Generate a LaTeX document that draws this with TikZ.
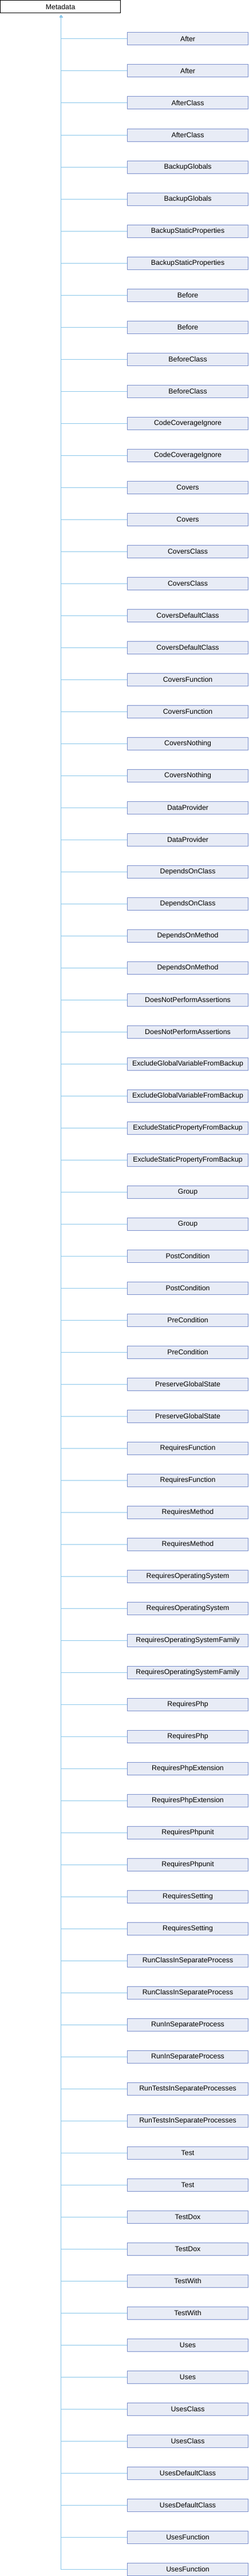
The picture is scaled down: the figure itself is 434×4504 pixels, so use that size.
\documentclass[tikz,border=0pt]{standalone}
\usepackage{fontspec}
\setmainfont{Liberation Sans}
\usetikzlibrary{arrows.meta}
\definecolor{edgeblue}{HTML}{8DC8EA}
\definecolor{boxborder}{HTML}{7B8FCC}
\definecolor{boxfill}{HTML}{E8ECF6}
\tikzset{
  basebox/.style={rectangle, line width=1pt, inner sep=0pt, font=\fontsize{12.35}{14}\selectfont},
  rootbox/.style={basebox, draw=black, fill=white, minimum width=210.3pt, minimum height=22.3pt},
  childbox/.style={basebox, draw=boxborder, fill=boxfill, minimum width=210.5pt, minimum height=22pt},
  inherit/.style={draw=edgeblue, line width=1pt, -{Triangle[length=4pt,width=5pt]}}
}
\begin{document}
\begin{tikzpicture}[x=1pt,y=-1pt]
\useasboundingbox (0,0) rectangle (434,4504);
\node[rootbox] (meta) at (105.65,11.65) {Metadata};
\foreach \nm [count=\k from 0] in {After,AfterClass,BackupGlobals,BackupStaticProperties,Before,BeforeClass,CodeCoverageIgnore,Covers,CoversClass,CoversDefaultClass,CoversFunction,CoversNothing,DataProvider,DependsOnClass,DependsOnMethod,DoesNotPerformAssertions,ExcludeGlobalVariableFromBackup,ExcludeStaticPropertyFromBackup,Group,PostCondition,PreCondition,PreserveGlobalState,RequiresFunction,RequiresMethod,RequiresOperatingSystem,RequiresOperatingSystemFamily,RequiresPhp,RequiresPhpExtension,RequiresPhpunit,RequiresSetting,RunClassInSeparateProcess,RunInSeparateProcess,RunTestsInSeparateProcesses,Test,TestDox,TestWith,Uses,UsesClass,UsesDefaultClass,UsesFunction}{
  \foreach \j in {0,1}{
    \pgfmathsetmacro{\yy}{68+56*(2*\k+\j)}
    \node[childbox] (c\k-\j) at (328.05,\yy) {\nm};
    \draw[inherit] (c\k-\j.west) -| ([xshift=1pt,yshift=-3pt]meta.south);
  }
}
\end{tikzpicture}
\end{document}
